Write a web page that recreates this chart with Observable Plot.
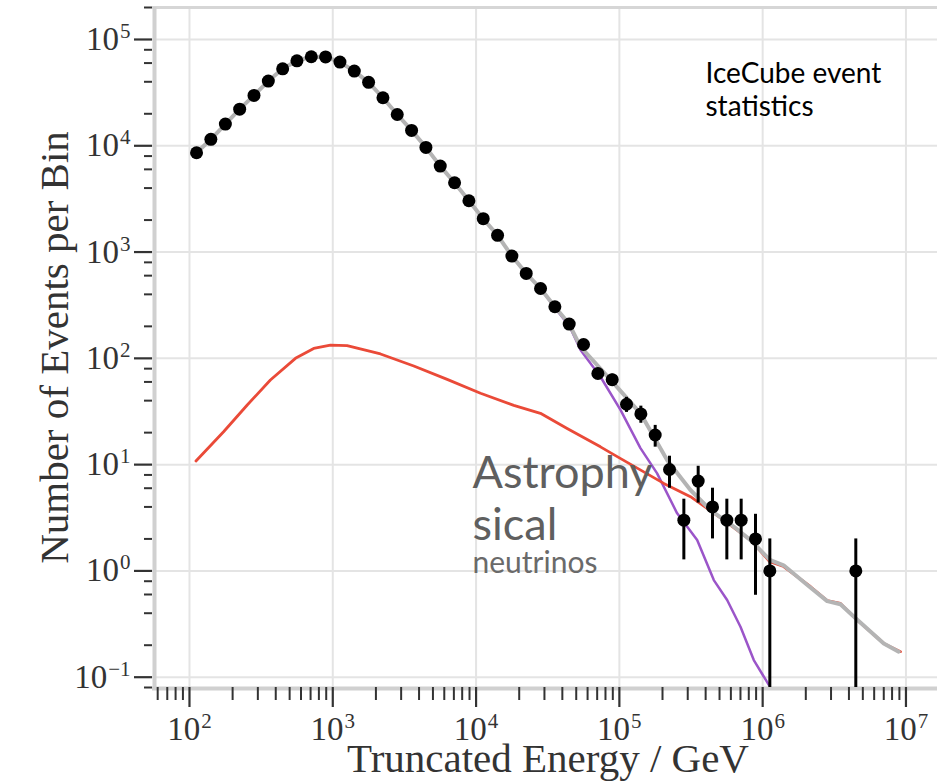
<!DOCTYPE html>
<html><head><meta charset="utf-8">
<script src="https://cdn.jsdelivr.net/npm/d3@7"></script>
<script src="https://cdn.jsdelivr.net/npm/@observablehq/plot@0.6"></script>
<style>html,body{margin:0;padding:0;background:#fff}</style>
</head><body><div id="chart"></div>
<script>
// Observed events (bin centres in GeV, counts per bin)
const binEnergy = [112, 141, 178, 224, 282, 355, 447, 562, 708, 891, 1122, 1413, 1778, 2239, 2818, 3548, 4467, 5623, 7079, 8913, 11220, 14125, 17783, 22387, 28184, 35481, 44668, 56234, 70795, 89125, 112202, 141254, 177828, 223872, 281838, 354813, 446684, 562341, 707946, 891251, 1122018, 4466836];
const eventCounts = [8600, 11500, 16000, 22100, 29800, 40600, 53000, 63000, 68800, 68500, 61300, 50400, 39500, 28300, 19700, 13960, 9660, 6440, 4490, 3040, 2060, 1436, 917, 630, 454, 306, 210, 135, 72, 63, 37, 30, 19, 9, 3, 7, 4, 3, 3, 2, 1, 1];

// Error bars (visible ones)
const errEnergy = [56234, 70795, 89125, 112202, 141254, 177828, 223872, 281838, 354813, 446684, 562341, 707946, 891251, 1122018, 4466836];
const errLow  = [123, 63.5, 55, 31, 24.5, 14.6, 6, 1.27, 4.35, 2, 1.27, 1.27, 0.59, 0.08, 0.08];
const errHigh = [147, 80.5, 71, 43, 35.5, 23.4, 12, 4.73, 9.65, 6, 4.73, 4.73, 3.41, 2, 2];

// Total expectation (grey)
const totalE = [112, 141, 178, 224, 282, 355, 447, 562, 708, 891, 1122, 1413, 1778, 2239, 2818, 3548, 4467, 5623, 7079, 8913, 11220, 14125, 17783, 22387, 28184, 35481, 44668, 53600, 91400, 140300, 215800, 313300, 431800, 628000, 822000, 1122000, 1400000, 2050000, 2820000, 3490000, 4450000, 7000000, 8900000];
const totalN = [8600, 11500, 16000, 22100, 29800, 40600, 53000, 63000, 68800, 68500, 61300, 50400, 39500, 28300, 19700, 13960, 9660, 6440, 4490, 3040, 2060, 1436, 917, 630, 454, 306, 210, 128.5, 58.2, 30.4, 11.0, 5.77, 3.74, 2.61, 1.95, 1.27, 1.13, 0.738, 0.52, 0.485, 0.358, 0.208, 0.174];

// Atmospheric (purple)
const atmoE = [1122, 1413, 1778, 2239, 2818, 3548, 4467, 5623, 7079, 8913, 11220, 14125, 17783, 22387, 28184, 35481, 44980, 53600, 73800, 101800, 140300, 183400, 253000, 349000, 456000, 565000, 700000, 867000, 1104000];
const atmoN = [61300, 50400, 39500, 28300, 19700, 13960, 9660, 6440, 4490, 3040, 2060, 1436, 917, 630, 454, 300, 200, 119.8, 67.1, 32.7, 14.3, 8.28, 3.48, 1.95, 0.82, 0.532, 0.298, 0.145, 0.0845];

// Astrophysical (red)
const astroE = [111, 173, 253, 367, 549, 736, 963, 1259, 2153, 3675, 6285, 10740, 18330, 28130, 43210, 73800, 96600, 204200, 313500, 535000, 822000, 1122000, 1400000, 2160000, 2820000, 3490000, 4560000, 7000000, 9160000];
const astroN = [10.8, 20.4, 36.4, 62.5, 100, 124, 133, 132, 110, 84.7, 63.4, 46.9, 36.1, 30.4, 21.9, 14.7, 11.9, 6.66, 4.99, 3.01, 1.95, 1.22, 1.10, 0.71, 0.525, 0.495, 0.345, 0.208, 0.174];

// Axes
const xDomain = [55.2, 1.66e7];
const yDomain = [0.08, 2e5];
const xMajor = [1e2, 1e3, 1e4, 1e5, 1e6, 1e7];
const yMajor = [1e-1, 1e0, 1e1, 1e2, 1e3, 1e4, 1e5];
const xMinorMult = [2, 3, 4, 5, 6, 7, 8, 9];
const yMinorMult = [2, 4, 6, 8];
const xMinor = [1e1, 1e2, 1e3, 1e4, 1e5, 1e6].flatMap(d => xMinorMult.map(m => m * d)).filter(v => v >= xDomain[0] && v <= xDomain[1]);
const yMinor = [1e-2, 1e-1, 1e0, 1e1, 1e2, 1e3, 1e4, 1e5].flatMap(d => yMinorMult.map(m => m * d)).filter(v => v >= yDomain[0] * 0.999 && v <= yDomain[1] * 1.001);

const xLabel = "Truncated Energy / GeV";
const yLabel = "Number of Events per Bin";
const noteTop = "IceCube event\nstatistics";
const noteBig = "Astrophy\nsical";
const noteSmall = "neutrinos";

const expFmt = d => "10^" + String(Math.round(Math.log10(d))).replace("-", "\u2212");
const serif = "'Liberation Serif', 'DejaVu Serif', serif";
const sans = "Lato, 'Open Sans', sans-serif";
const gridStyle = {stroke: "#e4e4e4", strokeOpacity: 1, strokeWidth: 2};
const tickFont = 33, supFont = 21;

const chart = Plot.plot({
  width: 937, height: 782,
  marginLeft: 152, marginRight: 0, marginTop: 7, marginBottom: 95,
  style: {fontFamily: serif, fontSize: "30px", color: "#333", background: "#fff", overflow: "visible"},
  x: {type: "log", domain: xDomain},
  y: {type: "log", domain: yDomain},
  marks: [
    Plot.gridX(xMajor, gridStyle),
    Plot.gridY(yMajor, gridStyle),
    Plot.ruleY([yDomain[1]], {stroke: "#d6d6d6", strokeWidth: 3}),
    Plot.ruleY([yDomain[0]], {stroke: "#d0d0d0", strokeWidth: 4, dy: 1}),
    Plot.ruleX([xDomain[0]], {stroke: "#d0d0d0", strokeWidth: 4, dx: 2, y1: yDomain[0], y2: yDomain[1]}),
    Plot.line(atmoE, {x: atmoE, y: atmoN, stroke: "#9b55c9", strokeWidth: 2.5, clip: true}),
    Plot.line(astroE, {x: astroE, y: astroN, stroke: "#ea4a38", strokeWidth: 2.8}),
    Plot.line(totalE, {x: totalE, y: totalN, stroke: "#b4b4b4", strokeWidth: 4}),
    Plot.ruleX(errEnergy, {x: errEnergy, y1: errLow, y2: errHigh, stroke: "#000", strokeWidth: 3}),
    Plot.dot(binEnergy, {x: binEnergy, y: eventCounts, r: 6.5, fill: "#000", stroke: "none"}),
    Plot.axisY(yMinor, {tickSize: 8, text: null, label: null, stroke: "#333", strokeWidth: 2}),
    Plot.axisY(yMajor, {tickSize: 18, tickPadding: 4, tickFormat: expFmt, label: null, stroke: "#333", strokeWidth: 2.2, fill: "#333", fontSize: tickFont, fontFamily: serif}),
    Plot.axisX(xMinor, {tickSize: 13, text: null, label: null, stroke: "#333", strokeWidth: 2}),
    Plot.axisX(xMajor, {tickSize: 20, tickPadding: 9, tickFormat: expFmt, label: null, stroke: "#333", strokeWidth: 2.2, fill: "#333", fontSize: tickFont, fontFamily: serif}),
    Plot.text([yLabel], {frameAnchor: "left", rotate: -90, dx: -98, textAnchor: "middle", lineAnchor: "middle", fontSize: 41, fontFamily: serif, fill: "#333"}),
    Plot.text([xLabel], {frameAnchor: "bottom", dx: 3, dy: 71, textAnchor: "middle", lineAnchor: "middle", fontSize: 41, fontFamily: serif, fill: "#333"}),
    Plot.text([noteTop], {frameAnchor: "top-left", dx: 553, dy: 53, textAnchor: "start", lineAnchor: "top", lineHeight: 1.15, fontSize: 28, fontFamily: sans, fill: "#000"}),
    Plot.text([noteBig], {frameAnchor: "top-left", dx: 320, dy: 444, textAnchor: "start", lineAnchor: "top", lineHeight: 1.155, fontSize: 45, fontFamily: sans, fill: "#5f5f5f"}),
    Plot.text([noteSmall], {frameAnchor: "top-left", dx: 320, dy: 544, textAnchor: "start", lineAnchor: "top", fontSize: 30, fontFamily: sans, fill: "#6a6a6a"})
  ]
});

// Render exponents as superscripts (real text)
const NS = "http://www.w3.org/2000/svg";
for (const t of chart.querySelectorAll('g[aria-label$="tick label"] text')) {
  const s = t.textContent;
  const i = s.indexOf("^");
  if (i < 0) continue;
  t.textContent = "";
  t.setAttribute("font-size", String(tickFont));
  t.style.fontSize = tickFont + "px";
  t.style.fontFamily = serif;
  const a = document.createElementNS(NS, "tspan");
  a.textContent = s.slice(0, i);
  a.setAttribute("font-size", String(tickFont));
  const b = document.createElementNS(NS, "tspan");
  b.textContent = s.slice(i + 1);
  b.setAttribute("font-size", String(supFont));
  b.setAttribute("dy", "-12");
  b.setAttribute("dx", "1");
  t.appendChild(a); t.appendChild(b);
}
document.getElementById("chart").appendChild(chart);
</script>
</body></html>
